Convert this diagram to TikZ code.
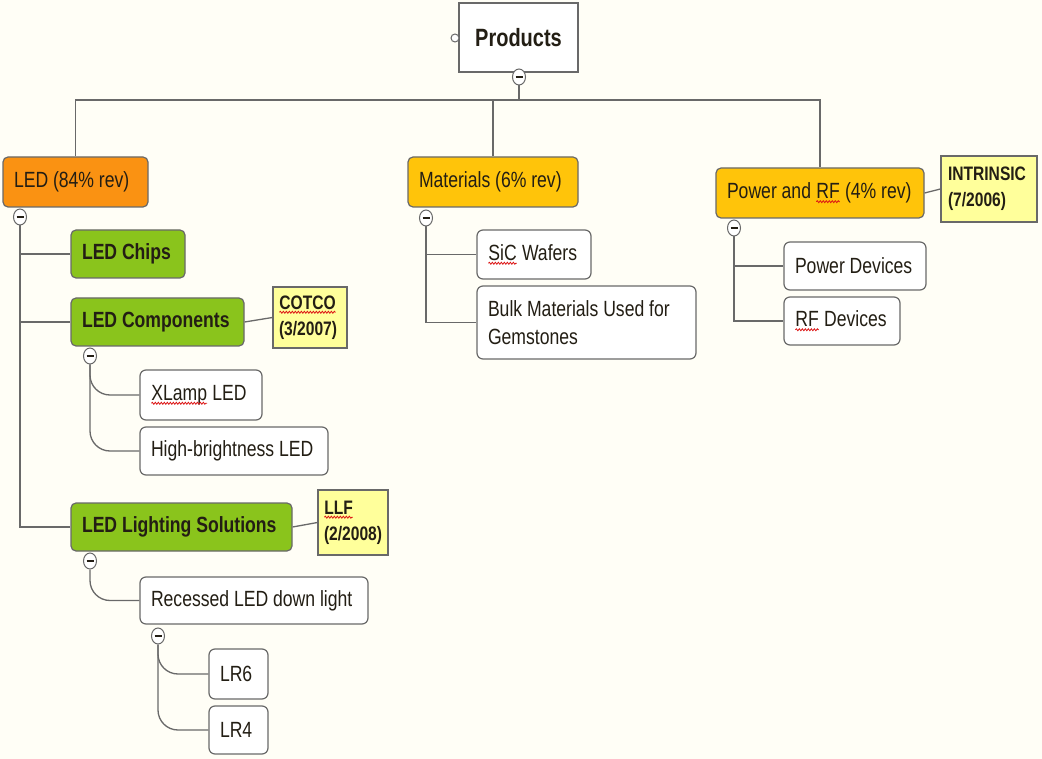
\documentclass[tikz,border=0pt]{standalone}
\usepackage{fontspec}
\setmainfont[FakeStretch=0.8]{Liberation Sans}
\usetikzlibrary{shapes}
\usetikzlibrary{decorations.pathmorphing}
\usepackage{xcolor}

\definecolor{paper}{RGB}{255,254,246}
\definecolor{ink}{RGB}{35,30,20}
\definecolor{edge}{RGB}{105,105,105}
\definecolor{orangebox}{RGB}{250,146,18}
\definecolor{goldbox}{RGB}{255,196,10}
\definecolor{greenbox}{RGB}{138,196,28}
\definecolor{notebox}{RGB}{255,255,155}
\definecolor{squiggle}{RGB}{220,20,20}

% narrower word spaces for the squeezed font
\newcommand{\tight}{\spaceskip=0.22em plus 0.05em minus 0.03em}
% red spell-check wave under a word
\newcommand{\spell}[1]{\tikz[baseline=(w.base), y=1pt]{\node[inner sep=0pt, outer sep=0pt,
    draw=none, fill=none, text width=, minimum width=0pt, minimum height=0pt, align=none] (w) {#1};
    \draw[squiggle, line width=0.8pt, sharp corners, decorate,
          decoration={snake, amplitude=1pt, segment length=3pt}]
          ([yshift=-3pt]w.base west) -- ([yshift=-3pt]w.base east);}}

\begin{document}
\begin{tikzpicture}[x=1pt, y=-1pt,
    line width=1.3pt, draw=edge,
    base/.style = {draw=edge, text=ink, line width=1.2pt,
                inner xsep=11pt, inner ysep=0pt, align=flush left},
    topic/.style = {base, rounded corners=5pt, font=\fontsize{22}{28}\selectfont\tight},
    branch/.style = {base, rounded corners=5pt, fill=greenbox,
                font=\fontsize{22}{28}\selectfont\bfseries\tight},
    leaf/.style = {base, rounded corners=6pt, fill=white,
                font=\fontsize{22}{28}\selectfont\tight},
    note/.style = {base, fill=notebox, inner xsep=6pt,
                font=\fontsize{19.5}{26}\selectfont\bfseries},
    toggle/.style = {ellipse, draw=edge, fill=white, line width=1pt,
                minimum width=13pt, minimum height=16pt, inner sep=0pt,
                path picture={\draw[ink, line width=1.6pt]
                ([xshift=-3.5pt]path picture bounding box.center) --
                ([xshift=3.5pt]path picture bounding box.center);}},
    knob/.style = {circle, draw=edge, fill=white, line width=1pt,
                minimum size=8pt, inner sep=0pt}
                    ]
    \fill[paper] (0,0) rectangle (1042,759);

    % root
    \node[base, fill=white, minimum width=119pt, minimum height=69pt,
          align=center, font=\fontsize{25}{30}\selectfont\bfseries] at (518.5,37.5) (prod) {Products};
    \node[knob] at (455,38) (pknob) {};
    \node[toggle] at (519,77) (ptog) {};

    % main topics
    \node[topic, fill=orangebox, text width=123pt, minimum height=50pt] at (75.5,182) (led) {LED (84\% rev)};
    \node[topic, fill=goldbox, text width=148pt, minimum height=50pt] at (493,182) (mat) {Materials (6\% rev)};
    \node[topic, fill=goldbox, text width=186pt, minimum height=50pt] at (820,193) (pwr) {Power and \spell{RF} (4\% rev)};
    \node[note, text width=82pt, minimum height=66pt, inner xsep=7pt] at (989,189) (intr) {INTRINSIC\\(7/2006)};

    \coordinate (bus) at (519,100);
    \draw (ptog) -- (bus);
    \draw (led) |- (bus) -| (pwr);
    \draw (mat) -- (mat |- bus);
    \draw (pwr.east) -- (intr.west);

    % LED
    \node[toggle] at (20,217) (ltog) {};
    \node[branch, text width=92pt, minimum height=48pt] at (128,254) (chips) {LED Chips};
    \node[branch, text width=151pt, minimum height=48pt] at (157.5,322) (comp) {LED Components};
    \node[note, text width=62pt, minimum height=61pt] at (310,317.5) (cotco) {\spell{COTCO}\\(3/2007)};
    \node[branch, text width=199pt, minimum height=48pt] at (181.5,527) (light) {LED Lighting Solutions};
    \node[note, text width=58pt, minimum height=65pt] at (353,522.5) (llf) {\spell{LLF}\\(2/2008)};
    \draw (ltog) |- (chips);
    \draw (ltog) |- (comp);
    \draw (ltog) |- (light);
    \draw (comp.east) -- (cotco.west);
    \draw (light.east) -- (llf.west);

    \node[toggle] at (90,356) (ctog) {};
    \node[leaf, text width=100pt, minimum height=50pt] at (201,395) (xlamp) {\spell{XLamp} LED};
    \node[leaf, text width=166pt, minimum height=48pt] at (234,451) (hibr) {High-brightness LED};
    \draw[rounded corners=20pt] (ctog) |- (xlamp);
    \draw[rounded corners=20pt] (ctog) |- (hibr);

    \node[toggle] at (90,561) (stog) {};
    \node[leaf, text width=206pt, minimum height=47pt] at (254,600.5) (recess) {Recessed LED down light};
    \draw[rounded corners=20pt] (stog) |- (recess);

    \node[toggle] at (158,636) (rtog) {};
    \node[leaf, text width=37pt, minimum height=50pt] at (238.5,674) (lrsix) {LR6};
    \node[leaf, text width=37pt, minimum height=48pt] at (238.5,730) (lrfour) {LR4};
    \draw[rounded corners=20pt] (rtog) |- (lrsix);
    \draw[rounded corners=20pt] (rtog) |- (lrfour);

    % Materials
    \node[toggle] at (426,218) (mtog) {};
    \node[leaf, text width=92pt, minimum height=49pt] at (534,254.5) (sic) {\spell{SiC} Wafers};
    \node[leaf, text width=197pt, minimum height=73pt] at (586.5,322.5) (bulk) {Bulk Materials Used for\\Gemstones};
    \draw (mtog) |- (sic);
    \draw (mtog) |- (bulk);

    % Power and RF
    \node[toggle] at (734,228) (wtog) {};
    \node[leaf, text width=120pt, minimum height=48pt] at (855,266) (pdev) {Power Devices};
    \node[leaf, text width=94pt, minimum height=48pt] at (842,321) (rfdev) {\spell{RF} Devices};
    \draw (wtog) |- (pdev);
    \draw (wtog) |- (rfdev);
\end{tikzpicture}
\end{document}
